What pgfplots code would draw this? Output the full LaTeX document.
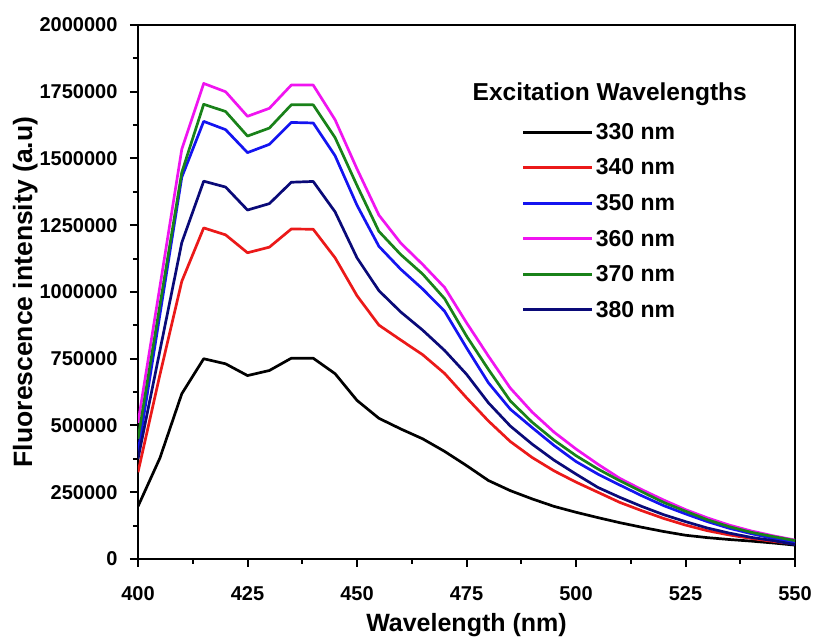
\documentclass[border=0pt]{standalone}
\usepackage{pgfplots}
\usepackage{pgfplotstable}
\pgfplotsset{compat=1.18}
\usepackage{fontspec}
\setmainfont{Liberation Sans}
\definecolor{c330}{RGB}{0,0,0}
\definecolor{c340}{RGB}{235,25,25}
\definecolor{c350}{RGB}{20,20,240}
\definecolor{c360}{RGB}{240,20,240}
\definecolor{c370}{RGB}{25,130,25}
\definecolor{c380}{RGB}{10,10,120}
\pgfplotstableread{
wl   a330    a340    a350    a360    a370    a380
400  197000  325000  400000  510000  450000  375000
405  378000  690000  915000  1020000 950000  780000
410  619000  1040000 1430000 1535000 1448000 1185000
415  750000  1240000 1639000 1781000 1703000 1415000
420  731000  1214000 1608000 1750000 1676000 1393000
425  687000  1147000 1522000 1658000 1584000 1307000
430  706000  1168000 1553000 1688000 1614000 1331000
435  752000  1236000 1635000 1775000 1701000 1411000
440  752000  1235000 1633000 1775000 1701000 1414000
445  694000  1128000 1510000 1645000 1578000 1300000
450  594000  986000  1325000 1461000 1399000 1128000
455  527000  876000  1171000 1288000 1227000 1005000
460  487000  820000  1085000 1183000 1140000 925000
465  450000  765000  1011000 1103000 1067000 857000
470  403000  695000  928000  1017000 975000  781000
475  350000  604000  791000  885000  835000  692000
480  294000  517000  660000  760000  710000  585000
485  256000  440000  561000  640000  592000  498000
490  225000  380000  492000  550000  512000  430000
495  197000  330000  425000  475000  445000  370000
500  175000  288000  365000  412000  387000  318000
505  155000  250000  318000  355000  337000  268000
510  136000  212000  277000  302000  293000  231000
515  119000  181000  237000  260000  252000  197000
520  103000  152000  200000  221000  212000  166000
525  89000   127000  169000  185000  179000  140000
530  80000   106000  140000  154000  147000  116000
535  73000   90000   115000  127000  121000  97000
540  67000   77000   95000   105000  100000  81000
545  60000   66000   77000   87000   84000   69000
550  52000   56000   60000   71000   69000   54000
}\datatable
\begin{document}
\begin{tikzpicture}
\begin{axis}[
  scale only axis,
  width=657pt, height=534pt,
  xmin=400, xmax=550, ymin=0, ymax=2000000,
  xtick={400,425,...,550},
  ytick={0,250000,...,2000000},
  minor tick num=1,
  tick pos=left,
  tick align=outside,
  major tick length=8pt,
  minor tick length=5pt,
  every tick/.style={line width=2pt, black},
  axis line style={line width=2.6pt},
  scaled y ticks=false,
  /pgf/number format/assume math mode=true,
  yticklabel style={/pgf/number format/fixed, /pgf/number format/1000 sep={}},
  yticklabel shift=9pt,
  xticklabel style={/pgf/number format/1000 sep={}},
  xticklabel shift=7pt,
  ticklabel style={font=\bfseries\fontsize{20}{20}\selectfont},
  every x tick label/.append style={yshift=-9pt},
  xlabel={Wavelength (nm)},
  ylabel={Fluorescence intensity (a.u)},
  xlabel style={font=\bfseries\fontsize{25}{25}\selectfont, yshift=-6pt},
  ylabel style={font=\bfseries\fontsize{26.5}{26.5}\selectfont, yshift=-5pt},
  legend style={draw=none, fill=none, at={(axis description cs:0.584,0.82)}, anchor=north west,
    font=\bfseries\fontsize{23}{23}\selectfont, row sep=14pt, inner sep=0pt},
  legend cell align=left,
  legend image code/.code={\draw[#1, line width=3pt] (0pt,0pt) -- (69pt,0pt);},
  every axis plot/.append style={line width=2.7pt, line join=round},
  clip=true,
]
\addplot[c330] table[x=wl,y=a330] {\datatable};
\addlegendentry{330 nm}
\addplot[c340] table[x=wl,y=a340] {\datatable};
\addlegendentry{340 nm}
\addplot[c350] table[x=wl,y=a350] {\datatable};
\addlegendentry{350 nm}
\addplot[c360] table[x=wl,y=a360] {\datatable};
\addlegendentry{360 nm}
\addplot[c370] table[x=wl,y=a370] {\datatable};
\addlegendentry{370 nm}
\addplot[c380] table[x=wl,y=a380] {\datatable};
\addlegendentry{380 nm}
\node[font=\bfseries\fontsize{24.5}{24.5}\selectfont] at (axis description cs:0.718,0.87) {Excitation Wavelengths};
\end{axis}
\path (current axis.north west) ++(-138pt,25pt);
\path (current axis.south east) ++(21pt,-78pt);
\end{tikzpicture}
\end{document}
